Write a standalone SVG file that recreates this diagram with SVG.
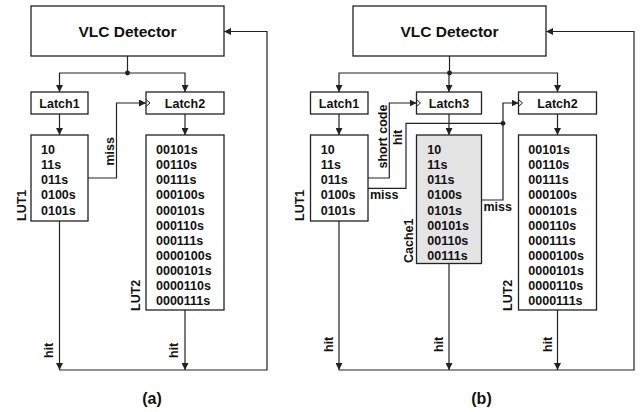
<svg xmlns="http://www.w3.org/2000/svg" width="642" height="412" viewBox="0 0 642 412">
<style>
.box{fill:#fff;stroke:#222;stroke-width:1.3}
.cache{fill:#e4e4e4;stroke:#222;stroke-width:1.3}
.ln{fill:none;stroke:#222;stroke-width:1.2}
.ar{fill:none;stroke:#222;stroke-width:1.2;marker-end:url(#ah)}
.clk{fill:none;stroke:#222;stroke-width:1}
text{font-family:"Liberation Sans",Arial,sans-serif;font-weight:bold;fill:#111}
.t{font-size:15.5px;text-anchor:middle}
.s{font-size:12.5px}
.c{font-size:12.5px;text-anchor:middle}
.cap{font-size:16px;text-anchor:middle}
</style>
<defs>
<marker id="ah" markerWidth="8" markerHeight="7" refX="7" refY="3.5" orient="auto" markerUnits="userSpaceOnUse">
<path d="M0,0 L7,3.5 L0,7 Z" fill="#222"/>
</marker>
</defs>

<!-- (a) -->
<g id="a-vlc"><rect class="box" x="31" y="6" width="193" height="50"/><text class="t" x="127.5" y="36.5">VLC Detector</text></g>
<g id="a-latch1"><rect class="box" x="31" y="92" width="57" height="22"/><text class="c" x="59.5" y="107.5">Latch1</text></g>
<g id="a-latch2"><rect class="box" x="146" y="92" width="78" height="22"/><text class="c" x="185" y="107.5">Latch2</text><polyline class="clk" points="146,99.5 150,103 146,106.5"/></g>
<g id="a-lut1"><rect class="box" x="31" y="135" width="57" height="86"/>
<text class="s" x="41" y="154">10</text><text class="s" x="41" y="169">11s</text><text class="s" x="41" y="184">011s</text><text class="s" x="41" y="199">0100s</text><text class="s" x="41" y="214.5">0101s</text>
<text class="s" transform="translate(25.5,221) rotate(-90)">LUT1</text></g>
<g id="a-lut2"><rect class="box" x="146" y="135" width="78" height="175"/>
<text class="s" x="156" y="154">00101s</text><text class="s" x="156" y="169">00110s</text><text class="s" x="156" y="184">00111s</text><text class="s" x="156" y="199">000100s</text><text class="s" x="156" y="214.5">000101s</text><text class="s" x="156" y="229.5">000110s</text><text class="s" x="156" y="244.5">000111s</text><text class="s" x="156" y="260">0000100s</text><text class="s" x="156" y="275">0000101s</text><text class="s" x="156" y="290">0000110s</text><text class="s" x="156" y="305">0000111s</text>
<text class="s" transform="translate(139.5,311) rotate(-90)">LUT2</text></g>

<!-- (b) -->
<g id="b-vlc"><rect class="box" x="353" y="6" width="193" height="50"/><text class="t" x="449.5" y="36.5">VLC Detector</text></g>
<g id="b-latch1"><rect class="box" x="310.5" y="92" width="57.5" height="22"/><text class="c" x="339" y="107.5">Latch1</text></g>
<g id="b-latch3"><rect class="box" x="416.5" y="92" width="65" height="22"/><text class="c" x="449" y="107.5">Latch3</text><polyline class="clk" points="416.5,99.5 420.5,103 416.5,106.5"/></g>
<g id="b-latch2"><rect class="box" x="518.5" y="92" width="78" height="22"/><text class="c" x="557.5" y="107.5">Latch2</text><polyline class="clk" points="518.5,99.5 522.5,103 518.5,106.5"/></g>
<g id="b-lut1"><rect class="box" x="310.5" y="135" width="57.5" height="86"/>
<text class="s" x="320.7" y="154">10</text><text class="s" x="320.7" y="169">11s</text><text class="s" x="320.7" y="184">011s</text><text class="s" x="320.7" y="199">0100s</text><text class="s" x="320.7" y="214.5">0101s</text>
<text class="s" transform="translate(304,221) rotate(-90)">LUT1</text></g>
<g id="b-cache1"><rect class="cache" x="416.5" y="135" width="65" height="128.5"/>
<text class="s" x="427.3" y="154">10</text><text class="s" x="427.3" y="169">11s</text><text class="s" x="427.3" y="184">011s</text><text class="s" x="427.3" y="199">0100s</text><text class="s" x="427.3" y="214.5">0101s</text><text class="s" x="427.3" y="229.5">00101s</text><text class="s" x="427.3" y="244.5">00110s</text><text class="s" x="427.3" y="260">00111s</text>
<text class="s" transform="translate(412.5,263) rotate(-90)">Cache1</text></g>
<g id="b-lut2"><rect class="box" x="518.5" y="135" width="78" height="175"/>
<text class="s" x="528.3" y="154">00101s</text><text class="s" x="528.3" y="169">00110s</text><text class="s" x="528.3" y="184">00111s</text><text class="s" x="528.3" y="199">000100s</text><text class="s" x="528.3" y="214.5">000101s</text><text class="s" x="528.3" y="229.5">000110s</text><text class="s" x="528.3" y="244.5">000111s</text><text class="s" x="528.3" y="260">0000100s</text><text class="s" x="528.3" y="275">0000101s</text><text class="s" x="528.3" y="290">0000110s</text><text class="s" x="528.3" y="305">0000111s</text>
<text class="s" transform="translate(512,311) rotate(-90)">LUT2</text></g>

<g id="connectors">
<!-- (a) -->
<line class="ln" x1="127.5" y1="56" x2="127.5" y2="73"/>
<polyline class="ar" points="127.5,73 59.5,73 59.5,92"/>
<polyline class="ar" points="127.5,73 185,73 185,92"/>
<circle cx="127.5" cy="73" r="2.4" fill="#222"/>
<line class="ar" x1="59.5" y1="114" x2="59.5" y2="135"/>
<line class="ar" x1="185" y1="114" x2="185" y2="135"/>
<polyline class="ar" points="88,178 116.5,178 116.5,103 146,103"/>
<line class="ar" x1="59.5" y1="221" x2="59.5" y2="370"/>
<line class="ar" x1="185" y1="310" x2="185" y2="370"/>
<polyline class="ar" points="59.5,370 267,370 267,31.5 224,31.5"/>
<!-- (b) -->
<line class="ln" x1="449.5" y1="56" x2="449.5" y2="73"/>
<polyline class="ar" points="449.5,73 339,73 339,92"/>
<polyline class="ar" points="449.5,73 557.5,73 557.5,92"/>
<line class="ar" x1="449" y1="73" x2="449" y2="92"/>
<circle cx="449.5" cy="73" r="2.4" fill="#222"/>
<line class="ar" x1="339" y1="114" x2="339" y2="135"/>
<line class="ar" x1="449" y1="114" x2="449" y2="135"/>
<line class="ar" x1="557.5" y1="114" x2="557.5" y2="135"/>
<polyline class="ar" points="368,178 389.3,178 389.3,103 416.5,103"/>
<polyline class="ln" points="368,188.3 406,188.3 406,123.3 503,123.3"/>
<polyline class="ar" points="481.5,200 503,200 503,103 518.5,103"/>
<circle cx="503" cy="123.3" r="2.4" fill="#222"/>
<line class="ar" x1="339" y1="221" x2="339" y2="370"/>
<line class="ar" x1="449" y1="263.5" x2="449" y2="370"/>
<line class="ar" x1="557.5" y1="310" x2="557.5" y2="370"/>
<polyline class="ar" points="339,370 634,370 634,31.5 546,31.5"/>
<!-- labels -->
<text class="s" transform="translate(113.5,165.5) rotate(-90)">miss</text>
<text class="s" transform="translate(53,358) rotate(-90)">hit</text>
<text class="s" transform="translate(178,358) rotate(-90)">hit</text>
<text class="s" transform="translate(386.5,168.5) rotate(-90)">short code</text>
<text class="s" transform="translate(402,145) rotate(-90)">hit</text>
<text class="s" x="370" y="199">miss</text>
<text class="s" x="483.5" y="210.5">miss</text>
<text class="s" transform="translate(333,352) rotate(-90)">hit</text>
<text class="s" transform="translate(443,352) rotate(-90)">hit</text>
<text class="s" transform="translate(552,352) rotate(-90)">hit</text>
</g>
<text class="cap" x="152" y="403.5">(a)</text>
<text class="cap" x="481.5" y="403.5">(b)</text>
</svg>
